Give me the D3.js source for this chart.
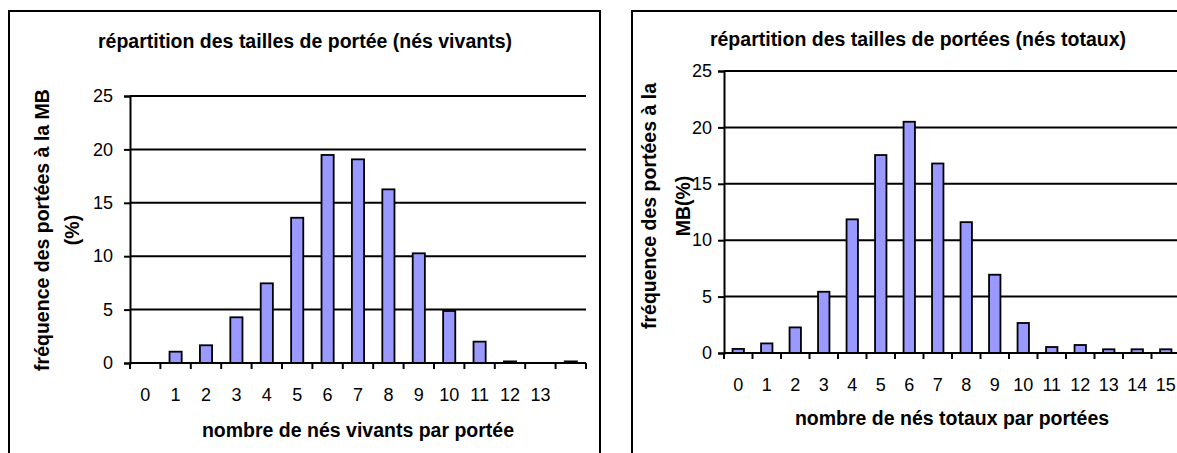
<!DOCTYPE html>
<html>
<head>
<meta charset="utf-8">
<script src="https://cdn.jsdelivr.net/npm/d3@7"></script>
<style>
  body { margin: 0; background: #fff; }
  svg { display: block; font-family: "Liberation Sans", Arial, sans-serif; }
</style>
</head>
<body>
<svg id="chart" width="1177" height="453"></svg>
<script>
// left chart: nés vivants
var vivantsCats = [0, 1, 2, 3, 4, 5, 6, 7, 8, 9, 10, 11, 12, 13, 14];
var vivantsVals = [0, 1.06, 1.66, 4.28, 7.46, 13.6, 19.48, 19.07, 16.26, 10.27, 4.87, 2.0, 0.15, 0, 0.15];
var vivantsLabels = ["0", "1", "2", "3", "4", "5", "6", "7", "8", "9", "10", "11", "12", "13", ""];

// right chart: nés totaux
var totauxCats = [0, 1, 2, 3, 4, 5, 6, 7, 8, 9, 10, 11, 12, 13, 14, 15];
var totauxVals = [0.36, 0.85, 2.27, 5.43, 11.85, 17.55, 20.5, 16.8, 11.6, 6.94, 2.66, 0.53, 0.71, 0.33, 0.33, 0.33];
var totauxLabels = ["0", "1", "2", "3", "4", "5", "6", "7", "8", "9", "10", "11", "12", "13", "14", "15"];

var yTicks = [0, 5, 10, 15, 20, 25];

var svg = d3.select("#chart");

function drawChart(o) {
    // frame round the chart
    svg.append("rect")
        .attr("x", o.frame[0]).attr("y", o.frame[1])
        .attr("width", o.frame[2]).attr("height", o.frame[3])
        .attr("fill", "none").attr("stroke", "#000").attr("stroke-width", 2);

    var x = d3.scaleBand().domain(o.cats).range([o.left, o.right]).paddingInner(0.6).paddingOuter(0.3);
    var xb = d3.scaleBand().domain(o.cats).range([o.left, o.right]);
    var y = d3.scaleLinear().domain([0, 25]).range([o.bottom, o.top]);

    // gridlines
    svg.append("g")
        .selectAll("line")
        .data(yTicks.slice(1))
        .enter().append("line")
        .attr("x1", o.left).attr("x2", o.right)
        .attr("y1", d => y(d)).attr("y2", d => y(d))
        .attr("stroke", "#000").attr("stroke-width", 2);

    // bars
    svg.append("g")
        .selectAll("rect")
        .data(o.vals)
        .enter().append("rect")
        .attr("x", (d, i) => x(o.cats[i]))
        .attr("width", x.bandwidth())
        .attr("y", d => y(d))
        .attr("height", d => o.bottom - y(d))
        .attr("fill", "#9999ff")
        .attr("stroke", "#000")
        .attr("stroke-width", 1.8);

    // y axis
    var yAxis = svg.append("g")
        .attr("transform", "translate(" + o.left + ",0)")
        .call(d3.axisLeft(y).tickValues(yTicks).tickSize(6).tickPadding(o.ypad));
    yAxis.attr("font-size", 18).attr("font-family", null);
    yAxis.select(".domain").attr("stroke-width", 2);
    yAxis.selectAll(".tick line").attr("stroke-width", 2);

    // x axis, ticks sit between categories
    var xAxis = svg.append("g")
        .attr("transform", "translate(0," + o.bottom + ")");
    xAxis.append("line")
        .attr("x1", o.left).attr("x2", o.right)
        .attr("stroke", "#000").attr("stroke-width", 2);
    xAxis.selectAll(".tk")
        .data(o.cats.concat(["end"]))
        .enter().append("line")
        .attr("x1", (d, i) => i < o.cats.length ? xb(d) : o.right)
        .attr("x2", (d, i) => i < o.cats.length ? xb(d) : o.right)
        .attr("y1", 0).attr("y2", 6)
        .attr("stroke", "#000").attr("stroke-width", 2);
    xAxis.selectAll("text")
        .data(o.cats)
        .enter().append("text")
        .attr("x", d => xb(d) + xb.bandwidth() / 2)
        .attr("y", o.xlabY)
        .attr("text-anchor", "middle")
        .attr("font-size", 18)
        .text((d, i) => o.labels[i]);

    // titles
    svg.append("text")
        .attr("x", o.titleX).attr("y", o.titleY)
        .attr("text-anchor", "middle")
        .attr("font-size", 19.5).attr("font-weight", "bold")
        .text(o.title);

    svg.append("text")
        .attr("x", (o.left + o.right) / 2).attr("y", o.xtitleY)
        .attr("text-anchor", "middle")
        .attr("font-size", 19.5).attr("font-weight", "bold")
        .text(o.xtitle);

    var yt = svg.append("text")
        .attr("transform", "translate(" + o.ytitleX + "," + o.ytitleY + ") rotate(-90)")
        .attr("text-anchor", "middle")
        .attr("font-size", 19.5).attr("font-weight", "bold");
    o.ytitle.forEach(function(line, i) {
        yt.append("tspan").attr("x", 0).attr("dy", i == 0 ? 0 : o.ylineGap).text(line);
    });
}

drawChart({
    frame: [9, 11, 591, 480],
    cats: vivantsCats, vals: vivantsVals, labels: vivantsLabels,
    left: 130, right: 586, top: 96, bottom: 363,
    ypad: 11, xlabY: 38,
    title: "répartition des tailles de portée (nés vivants)", titleX: 305, titleY: 48,
    xtitle: "nombre de nés vivants par portée", xtitleY: 437,
    ytitle: ["fréquence des portées à la MB", "(%)"], ytitleX: 49, ytitleY: 230, ylineGap: 30
});

drawChart({
    frame: [632, 11, 600, 480],
    cats: totauxCats, vals: totauxVals, labels: totauxLabels,
    left: 724, right: 1180, top: 71, bottom: 353,
    ypad: 6, xlabY: 38,
    title: "répartition des tailles de portées (nés totaux)", titleX: 918, titleY: 46,
    xtitle: "nombre de nés totaux par portées", xtitleY: 425,
    ytitle: ["fréquence des portées à la", "MB(%)"], ytitleX: 656, ytitleY: 206, ylineGap: 34
});
</script>
</body>
</html>
